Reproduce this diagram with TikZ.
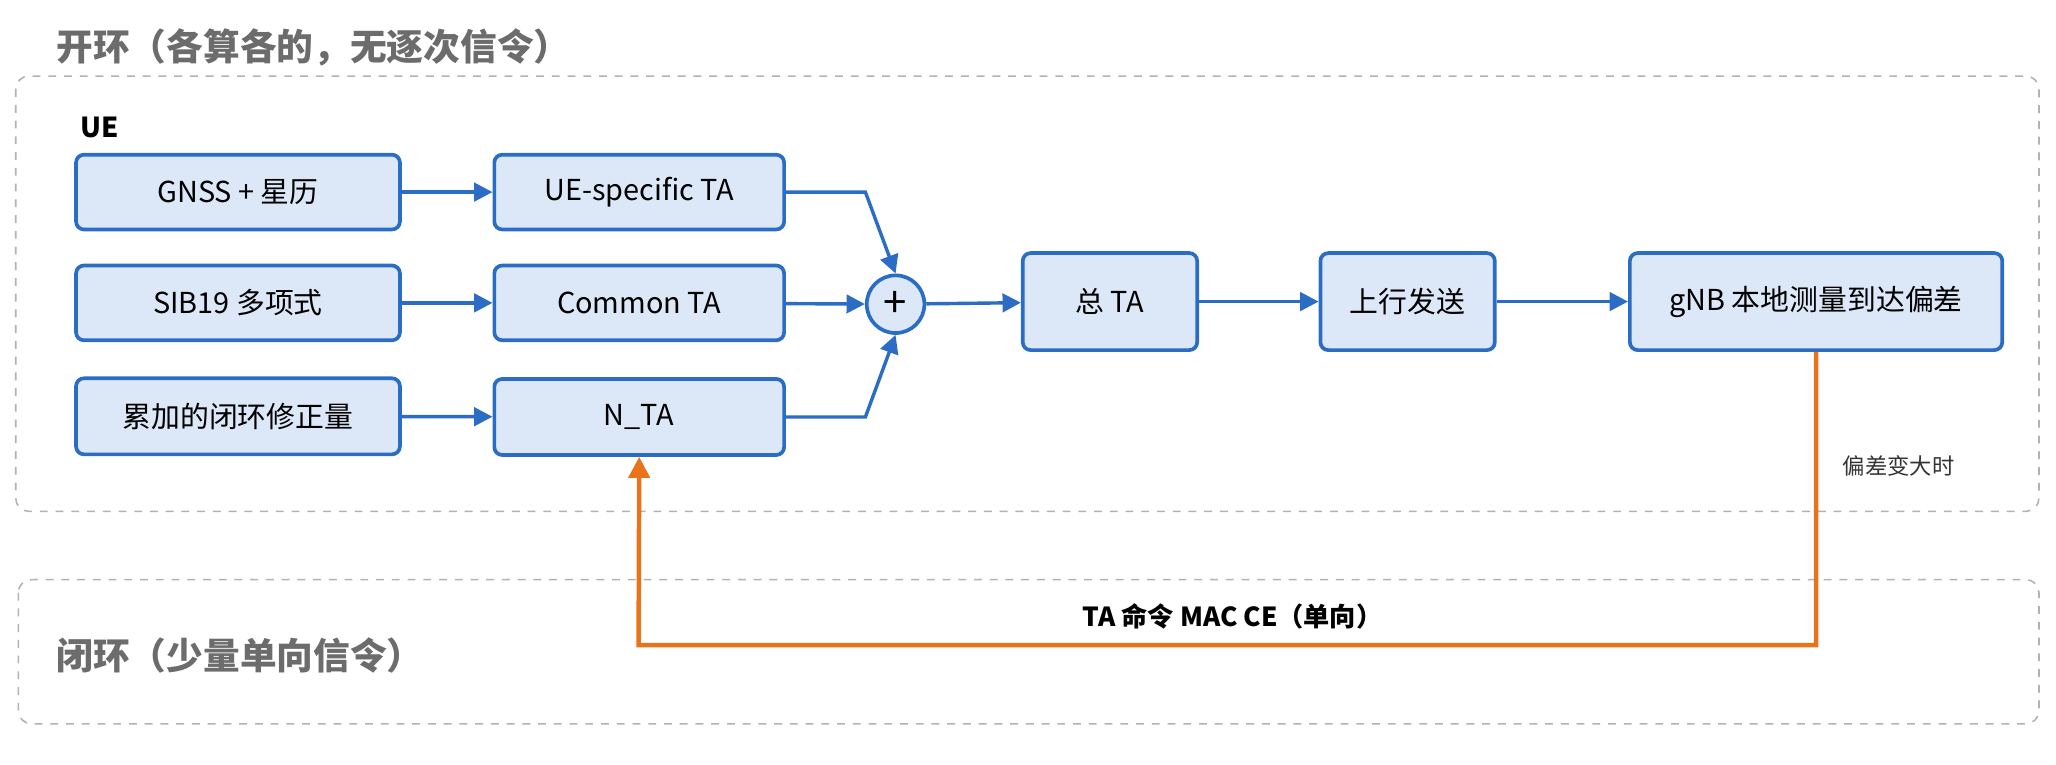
\documentclass[tikz,border=0pt]{standalone}
\usepackage{fontspec}
\setmainfont{Noto Sans CJK SC}
\usetikzlibrary{arrows.meta}
\definecolor{bfill}{HTML}{DCE8F8}
\definecolor{bdraw}{HTML}{2B6CC4}
\definecolor{org}{HTML}{E8731A}
\tikzset{
 box/.style={draw=bdraw,fill=bfill,line width=1.4pt,rounded corners=3pt,font=\fontsize{11}{13}\selectfont,inner sep=0pt},
 arr/.style={draw=bdraw,line width=1.3pt,-{Triangle[length=7pt,width=7pt]}},
 oarr/.style={draw=org,line width=1.7pt,-{Triangle[length=8pt,width=8pt]}},
 zone/.style={draw=gray!60,dashed,line width=0.6pt,rounded corners=5pt},
 ttl/.style={font=\fontsize{14}{16}\selectfont\bfseries,text=gray!85!black,anchor=west}
}
\begin{document}
\begin{tikzpicture}[x=0.5pt,y=-0.5pt]
\useasboundingbox (0,0) rectangle (1568,583);
\draw[zone] (12,58) rectangle (1555,390);
\draw[zone] (14,442) rectangle (1555,552);
\node[ttl] (t1) at (36,36) {开环（各算各的，无逐次信令）};
\node[ttl] (t2) at (36,500) {闭环（少量单向信令）};
\node[anchor=west,font=\fontsize{10.5}{12}\selectfont\bfseries] (ue) at (54,97) {UE};
\node[box,minimum width=123.5pt,minimum height=28.5pt] (g) at (181.5,146.5) {GNSS + 星历};
\node[box,minimum width=123.5pt,minimum height=28.5pt] (s) at (181.5,231) {SIB19 多项式};
\node[box,minimum width=123.5pt,minimum height=29pt] (k) at (181.5,317.5) {累加的闭环修正量};
\node[box,minimum width=110.5pt,minimum height=28.5pt] (u) at (487.5,146.5) {UE-specific TA};
\node[box,minimum width=110.5pt,minimum height=28.5pt] (c) at (487.5,231) {Common TA};
\node[box,minimum width=110.5pt,minimum height=29pt] (n) at (487.5,318) {N\_TA};
\node[draw=bdraw,fill=bfill,line width=1.4pt,circle,minimum size=22pt,inner sep=0pt,font=\fontsize{16}{16}\selectfont] (p) at (683,232) {+};
\node[box,minimum width=66.5pt,minimum height=37pt] (z) at (846.5,230) {总 TA};
\node[box,minimum width=66.5pt,minimum height=37pt] (up) at (1073.5,230) {上行发送};
\node[box,minimum width=142pt,minimum height=37pt] (gnb) at (1385,230) {gNB 本地测量到达偏差};
\draw[arr] (g) -- (u);
\draw[arr] (s) -- (c);
\draw[arr] (k) -- (n);
\draw[arr] (u.east) -- (660,146.5) -- (p.north);
\draw[arr] (c) -- (p);
\draw[arr] (n.east) -- (660,318) -- (p.south);
\draw[arr] (p) -- (z);
\draw[arr] (z) -- (up);
\draw[arr] (up) -- (gnb);
\coordinate (c1) at (1385,492);
\coordinate (c2) at (487,492);
\draw[oarr] (gnb.south) -- (c1) -- (c2) -- (n.south);
\node[font=\fontsize{8.5}{10}\selectfont,text=black!80] (l1) at (1448,355) {偏差变大时};
\node[font=\fontsize{10}{12}\selectfont\bfseries] (l2) at (940,470) {TA 命令 MAC CE（单向）};
\end{tikzpicture}
\end{document}
